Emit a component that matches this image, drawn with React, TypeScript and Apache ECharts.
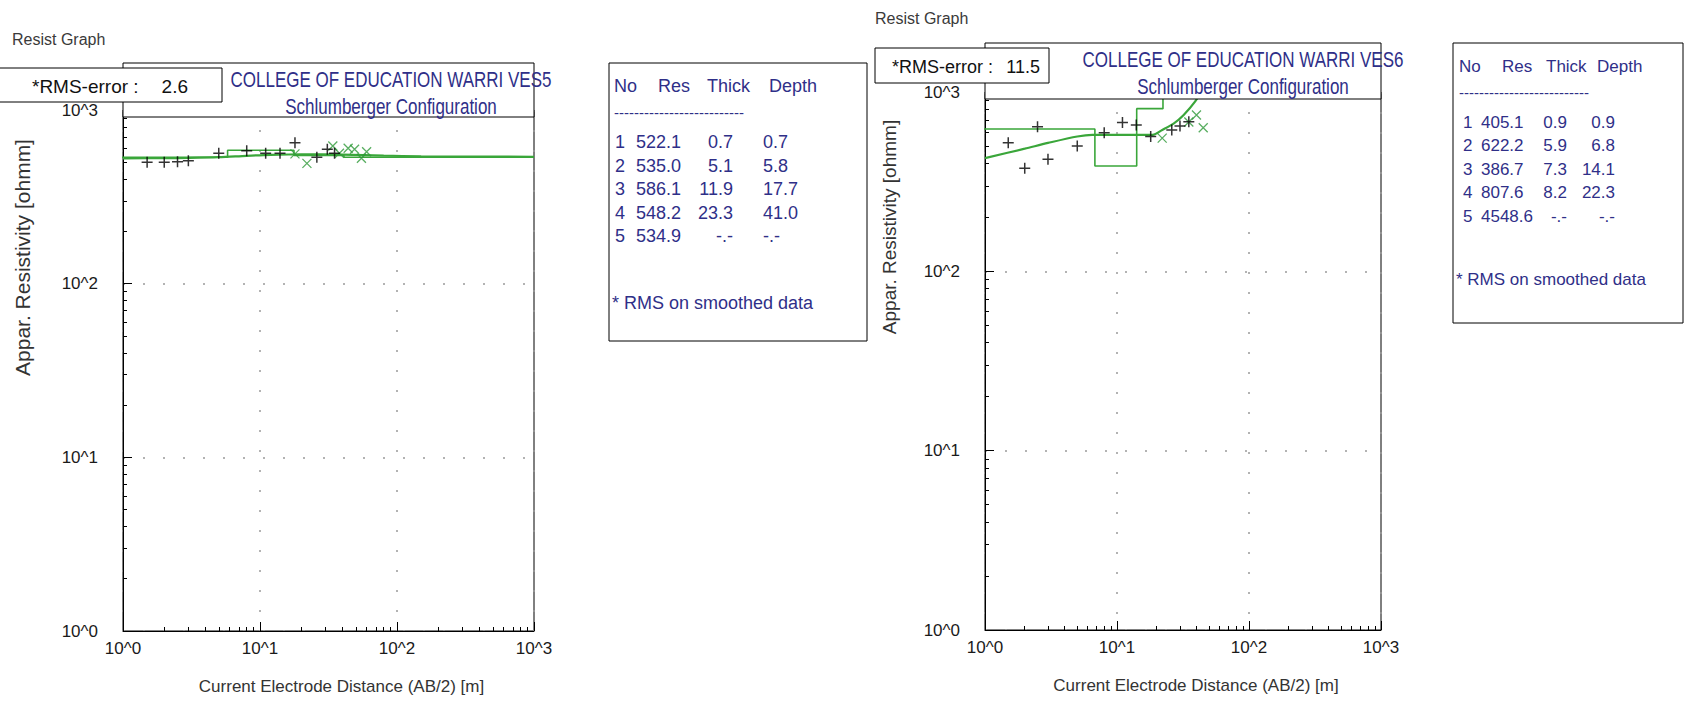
import React, { useEffect, useRef } from "react";
import * as echarts from "echarts";

// ---------------- VES5 (left panel) ----------------
const ves5Title = "COLLEGE OF EDUCATION WARRI VES5";
const ves5Rms = "2.6";
const ves5FieldAB = [1.5, 2, 2.5, 3, 5, 8, 11, 14, 18, 26, 31, 35];
const ves5FieldRho = [500, 500, 504, 511, 563, 583, 563, 563, 648, 534, 594, 563];
const ves5OverlapAB = [18, 22, 34, 38, 44, 49, 55, 60];
const ves5OverlapRho = [559, 493, 620, 563, 602, 594, 527, 575];
const ves5CurveAB = [1, 2, 3, 5, 8, 12, 20, 40, 80, 150, 300, 1000];
const ves5CurveRho = [527, 528, 530, 535, 545, 552, 556, 553, 546, 541, 539, 538];
const ves5LayerRes = [522.1, 535.0, 586.1, 548.2, 534.9];
const ves5LayerThick = [0.7, 5.1, 11.9, 23.3];
const ves5LayerDepth = [0.7, 5.8, 17.7, 41.0];

// ---------------- VES6 (right panel) ----------------
const ves6Title = "COLLEGE OF EDUCATION WARRI VES6";
const ves6Rms = "11.5";
const ves6FieldAB = [1.5, 2, 2.5, 3, 5, 8, 11, 14, 18, 26, 30, 35];
const ves6FieldRho = [522, 376, 641, 422, 500, 593, 675, 655, 564, 614, 647, 683];
const ves6OverlapAB = [22, 35, 40, 45];
const ves6OverlapRho = [553, 680, 745, 632];
const ves6CurveAB = [1, 2, 3, 5, 6.5, 10, 18.6, 22, 27, 32, 39, 45];
const ves6CurveRho = [428, 483, 520, 565, 577, 577, 577, 614, 669, 745, 883, 1050];
const ves6LayerRes = [405.1, 622.2, 386.7, 807.6, 4548.6];
const ves6LayerThick = [0.9, 5.9, 7.3, 8.2];
const ves6LayerDepth = [0.9, 6.8, 14.1, 22.3];

// ---------------- shared texts ----------------
const captionText = "Resist Graph";
const subTitle = "Schlumberger Configuration";
const xTitle = "Current Electrode Distance (AB/2) [m]";
const yTitle = "Appar. Resistivity [ohmm]";
const rmsLabel = "*RMS-error :";
const tableHeader = ["No", "Res", "Thick", "Depth"];
const tableFooter = "* RMS on smoothed data";
const axisMin = 1;
const axisMax = 1000;

const FONT = "'Liberation Sans', Arial, Helvetica, sans-serif";
const NAVY = "#2f2f88";
const GREEN = "#3aa63a";
const XGREEN = "#2f9a3a";

const panels = [
  {
    title: ves5Title, rms: ves5Rms,
    fieldAB: ves5FieldAB, fieldRho: ves5FieldRho,
    ovAB: ves5OverlapAB, ovRho: ves5OverlapRho,
    curveAB: ves5CurveAB, curveRho: ves5CurveRho,
    res: ves5LayerRes, thick: ves5LayerThick, depth: ves5LayerDepth,
    grid: { left: 123, top: 110, width: 411, height: 521 },
    frameTop: 63, plotTop: 117, titleCx: 391,
    rmsBox: [-2, 68, 224, 34], rmsFont: 19, rmsLabelDx: 34, rmsValueDx: 190, caption: [12, 39],
    yShift: 113, yGap: 90, yFont: 21,
    table: { x: 609, y: 63, w: 258, h: 278, font: 18,
      head: [5, 49, 98, 160], no: 6, resL: 27, thickR: 124, depth: 154, depthAlign: "left", foot: 240 },
  },
  {
    title: ves6Title, rms: ves6Rms,
    fieldAB: ves6FieldAB, fieldRho: ves6FieldRho,
    ovAB: ves6OverlapAB, ovRho: ves6OverlapRho,
    curveAB: ves6CurveAB, curveRho: ves6CurveRho,
    res: ves6LayerRes, thick: ves6LayerThick, depth: ves6LayerDepth,
    grid: { left: 985, top: 92, width: 396, height: 538 },
    frameTop: 43, plotTop: 99, titleCx: 1243,
    rmsBox: [875, 48, 174, 35], rmsFont: 18, rmsLabelDx: 17, rmsValueDx: 165, caption: [875, 18],
    yShift: 134, yGap: 86, yFont: 19,
    table: { x: 1453, y: 43, w: 230, h: 280, font: 17,
      head: [6, 49, 93, 144], no: 10, resL: 28, thickR: 114, depth: 162, depthAlign: "right", foot: 236 },
  },
];

const zip = (a: number[], b: number[]) => a.map((v, i) => [v, b[i]]);

function stepPoints(res: number[], depth: number[]) {
  const pts: number[][] = [[depth[0], res[1]]];
  for (let i = 1; i < depth.length; i++) {
    pts.push([depth[i], res[i]]);
    pts.push([depth[i], res[i + 1]]);
  }
  pts.push([axisMax, res[res.length - 1]]);
  return pts;
}

const powLabel = (v: number) => "10^" + Math.round(Math.log10(v));

function buildOption() {
  const grid: any[] = [];
  const xAxis: any[] = [];
  const yAxis: any[] = [];
  const series: any[] = [];
  const graphic: any[] = [];

  panels.forEach((p, i) => {
    grid.push({ ...p.grid, show: true, borderColor: "#000", borderWidth: 1, backgroundColor: "#fff" });
    const common = {
      type: "log", logBase: 10, gridIndex: i, min: axisMin, max: axisMax,
      axisLine: { show: true, onZero: false, lineStyle: { color: "#000", width: 1 } },
      axisTick: { show: true, inside: true, length: 9, lineStyle: { color: "#000" } },
      minorTick: { show: true, splitNumber: 9, length: 4, lineStyle: { color: "#000" } },
      splitLine: { show: true, lineStyle: { color: "#9a9a9a", type: [2, 18], width: 1.5 } },
    };
    xAxis.push({
      ...common,
      name: xTitle, nameLocation: "middle", nameGap: 47,
      nameTextStyle: { fontSize: 17, color: "#333", fontFamily: FONT, padding: [0, 0, 0, 26] },
      axisLabel: { formatter: powLabel, fontSize: 17, color: "#1a1a1a", margin: 9, fontFamily: FONT, showMinLabel: true, showMaxLabel: true },
    });
    yAxis.push({
      ...common,
      name: yTitle, nameLocation: "middle", nameRotate: 90, nameGap: p.yGap,
      nameTextStyle: { fontSize: p.yFont, color: "#333", fontFamily: FONT, padding: [0, 0, 0, p.yShift * 2] },
      axisLabel: { formatter: powLabel, fontSize: 17, color: "#1a1a1a", margin: 25, fontFamily: FONT, showMinLabel: true, showMaxLabel: true },
    });

    series.push({
      name: "model", type: "line", xAxisIndex: i, yAxisIndex: i, data: stepPoints(p.res, p.depth),
      showSymbol: false, clip: true, lineStyle: { color: GREEN, width: 1.6 }, z: 2,
    });
    series.push({
      name: "curve", type: "line", xAxisIndex: i, yAxisIndex: i, data: zip(p.curveAB, p.curveRho),
      showSymbol: false, smooth: 0.3, clip: true, lineStyle: { color: GREEN, width: 2.2 }, z: 3,
    });
    series.push({
      name: "field", type: "scatter", xAxisIndex: i, yAxisIndex: i, data: zip(p.fieldAB, p.fieldRho),
      symbol: "path://M5 0V10M0 5H10", symbolSize: 11,
      itemStyle: { color: "rgba(0,0,0,0)", borderColor: "#000", borderWidth: 1.5 }, z: 5,
    });
    series.push({
      name: "smoothed", type: "scatter", xAxisIndex: i, yAxisIndex: i, data: zip(p.ovAB, p.ovRho),
      symbol: "path://M0 0L10 10M0 10L10 0", symbolSize: 9,
      itemStyle: { color: "rgba(0,0,0,0)", borderColor: XGREEN, borderWidth: 1.3 }, z: 4,
    });

    // caption
    graphic.push({ type: "text", x: p.caption[0], y: p.caption[1], z: 30,
      style: { text: captionText, fill: "#3a3a3a", font: `16px ${FONT}`, align: "left", verticalAlign: "middle" } });
    // title box
    graphic.push({ type: "rect", z: 20,
      shape: { x: p.grid.left, y: p.frameTop, width: p.grid.width, height: p.plotTop - p.frameTop },
      style: { fill: "#fff", stroke: "#000", lineWidth: 1 } });
    graphic.push({ type: "text", x: p.titleCx, y: p.frameTop + 16.5, scaleY: 1.3, z: 21,
      style: { text: p.title, fill: NAVY, font: `17px ${FONT}`, align: "center", verticalAlign: "middle" } });
    graphic.push({ type: "text", x: p.titleCx, y: p.frameTop + 43.5, scaleY: 1.3, z: 21,
      style: { text: subTitle, fill: NAVY, font: `17px ${FONT}`, align: "center", verticalAlign: "middle" } });
    // RMS box
    const [rx, ry, rw, rh] = p.rmsBox;
    graphic.push({ type: "rect", z: 24, shape: { x: rx, y: ry, width: rw, height: rh },
      style: { fill: "#fff", stroke: "#000", lineWidth: 1 } });
    graphic.push({ type: "text", x: rx + p.rmsLabelDx, y: ry + rh / 2 + 1.5, z: 25,
      style: { text: rmsLabel, fill: "#111", font: `${p.rmsFont}px ${FONT}`, align: "left", verticalAlign: "middle" } });
    graphic.push({ type: "text", x: rx + p.rmsValueDx, y: ry + rh / 2 + 1.5, z: 25,
      style: { text: p.rms, fill: "#111", font: `${p.rmsFont}px ${FONT}`, align: "right", verticalAlign: "middle" } });

    // layer table
    const t = p.table;
    graphic.push({ type: "rect", z: 20, shape: { x: t.x, y: t.y, width: t.w, height: t.h },
      style: { fill: "#fff", stroke: "#000", lineWidth: 1 } });
    const tf = `${t.font}px ${FONT}`;
    tableHeader.forEach((h, k) => {
      graphic.push({ type: "text", x: t.x + t.head[k], y: t.y + 23, z: 21,
        style: { text: h, fill: NAVY, font: tf, align: "left", verticalAlign: "middle" } });
    });
    graphic.push({ type: "text", x: t.x + t.head[0], y: t.y + 49, z: 21,
      style: { text: "--------------------------", fill: NAVY, font: `15px ${FONT}`, align: "left", verticalAlign: "middle" } });
    p.res.forEach((r, k) => {
      const y = t.y + 79 + k * 23.5;
      const th = k < p.thick.length ? p.thick[k].toFixed(1) : "-.-";
      const dp = k < p.depth.length ? p.depth[k].toFixed(1) : "-.-";
      graphic.push({ type: "text", x: t.x + t.no, y, z: 21,
        style: { text: String(k + 1), fill: NAVY, font: tf, align: "left", verticalAlign: "middle" } });
      graphic.push({ type: "text", x: t.x + t.resL, y, z: 21,
        style: { text: r.toFixed(1), fill: NAVY, font: tf, align: "left", verticalAlign: "middle" } });
      graphic.push({ type: "text", x: t.x + t.thickR, y, z: 21,
        style: { text: th, fill: NAVY, font: tf, align: "right", verticalAlign: "middle" } });
      graphic.push({ type: "text", x: t.x + t.depth, y, z: 21,
        style: { text: dp, fill: NAVY, font: tf, align: t.depthAlign, verticalAlign: "middle" } });
    });
    graphic.push({ type: "text", x: t.x + 3, y: t.y + t.foot, z: 21,
      style: { text: tableFooter, fill: NAVY, font: tf, align: "left", verticalAlign: "middle" } });
  });

  return {
    animation: false,
    backgroundColor: "#fff",
    textStyle: { fontFamily: FONT },
    grid, xAxis, yAxis, series, graphic,
  };
}

export default function App() {
  const ref = useRef<HTMLDivElement>(null);
  useEffect(() => {
    const chart = echarts.init(ref.current!, null, { renderer: "svg" });
    chart.setOption(buildOption() as any);
    return () => chart.dispose();
  }, []);
  return (
    <div
      ref={ref}
      style={{ position: "absolute", left: 0, top: 0, width: 1684, height: 704, background: "#fff" }}
    />
  );
}
